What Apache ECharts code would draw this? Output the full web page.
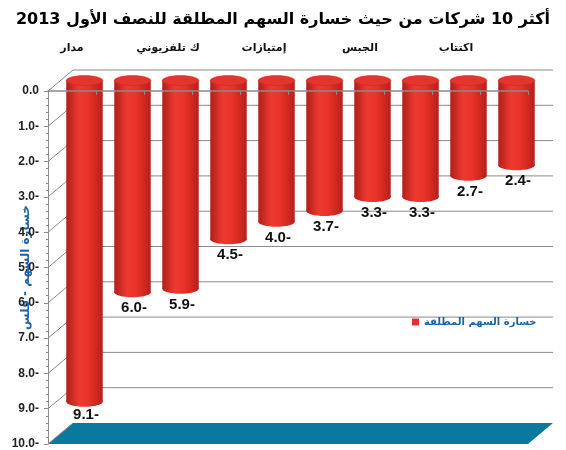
<!DOCTYPE html>
<html>
<head>
<meta charset="utf-8">
<script src="https://cdn.jsdelivr.net/npm/echarts@6/dist/echarts.min.js"></script>
<style>
  html, body { margin: 0; padding: 0; background: #fff; }
  #chart { width: 566px; height: 450px; }
</style>
</head>
<body>
<div id="chart"></div>
<script>
// companies (only every other name is printed in the source)
const categories = ['مدار', '', 'ك تلفزيوني', '', 'إمتيازات', '', 'الجبس', '', 'اكتتاب', '']
const lossValues = [-9.1, -6.0, -5.9, -4.5, -4.0, -3.7, -3.3, -3.3, -2.7, -2.4]
const yTicks = [0, -1, -2, -3, -4, -5, -6, -7, -8, -9, -10]

const titleText = 'أكثر 10 شركات من حيث خسارة السهم المطلقة للنصف الأول 2013'
const seriesName = 'خسارة السهم المطلقة'
const yAxisName = 'خسارة السهم - فلس'

// 3d depth offset of the back wall
const DX = 25
const DY = 21

const fmt = v => (v === 0 ? '0.0' : Math.abs(v).toFixed(1) + '-')

const chart = echarts.init(document.getElementById('chart'))

const renderFrame = (params, api) => {
  const cs = params.coordSys
  const v = api.value(1)
  const y = api.coord([0, v])[1]
  const x0 = cs.x
  const x1 = cs.x + cs.width
  const line = { stroke: '#8a8a8a', lineWidth: 1 }
  const children = []
  if (v === -10) {
    children.push({
      type: 'polygon',
      shape: { points: [[x0, y], [x0 + DX, y - DY], [x1 + DX, y - DY], [x1, y]] },
      style: { fill: '#0b78a0' }
    })
  } else {
    children.push({
      type: 'line',
      shape: { x1: x0 + DX, y1: y - DY, x2: x1 + DX, y2: y - DY },
      style: line
    })
  }
  children.push({
    type: 'line',
    shape: { x1: x0, y1: y, x2: x0 + DX, y2: y - DY },
    style: line
  })
  return { type: 'group', children }
}

const renderBar = (params, api) => {
  const idx = api.value(0)
  const v = api.value(1)
  const p0 = api.coord([idx, 0])
  const p1 = api.coord([idx, v])
  const floorBack = api.coord([idx, -10])[1] - DY
  const bw = api.size([1, 0])[0] * 0.76
  const cx = p0[0] + DX / 2
  const yTop = p0[1] - DY / 2
  const yBot = p1[1] - DY / 2
  const rx = bw / 2
  const ry = 5
  const body = new echarts.graphic.LinearGradient(0, 0, 1, 0, [
    { offset: 0, color: '#b51d18' },
    { offset: 0.35, color: '#ec3a2f' },
    { offset: 0.6, color: '#e83329' },
    { offset: 1, color: '#b81f1a' }
  ])
  // label sits under the bar but is kept above the floor
  const labelY = Math.min(yBot + 16, floorBack - 8)
  return {
    type: 'group',
    children: [
      {
        type: 'ellipse',
        shape: { cx, cy: yBot, rx, ry },
        style: { fill: body }
      },
      {
        type: 'rect',
        shape: { x: cx - rx, y: yTop, width: bw, height: yBot - yTop },
        style: { fill: body }
      },
      {
        type: 'ellipse',
        shape: { cx, cy: yTop, rx, ry },
        style: { fill: '#e4352c', stroke: '#c92620', lineWidth: 0.5 }
      },
      {
        type: 'text',
        x: p1[0] + 14,
        y: labelY,
        style: {
          text: fmt(v),
          fill: '#111',
          font: 'bold 15px "Liberation Sans", Arial, sans-serif',
          align: 'center',
          verticalAlign: 'middle'
        }
      }
    ]
  }
}

const option = {
  backgroundColor: '#fff',
  animation: false,
  title: {
    text: titleText,
    left: 'center',
    top: 7,
    textStyle: {
      fontFamily: '"DejaVu Sans", sans-serif',
      fontSize: 16,
      fontWeight: 'bold',
      color: '#000'
    }
  },
  legend: {
    data: [seriesName],
    left: 407,
    top: 312,
    icon: 'rect',
    itemWidth: 7,
    itemHeight: 7,
    itemGap: 4,
    textStyle: {
      color: '#1a62a4',
      fontWeight: 'bold',
      fontSize: 10,
      padding: [4, 0, 0, 0],
      fontFamily: '"DejaVu Sans", sans-serif'
    }
  },
  grid: {
    left: 48,
    right: 38,
    top: 91,
    bottom: 6,
    outerBoundsMode: 'none'
  },
  xAxis: {
    type: 'category',
    position: 'top',
    data: categories,
    z: 10,
    axisLine: { lineStyle: { color: '#8a8a8a', width: 1.5 } },
    axisTick: { show: true, length: -4, lineStyle: { color: '#8a8a8a' } },
    axisLabel: {
      interval: 0,
      margin: 37,
      color: '#111',
      fontWeight: 'bold',
      fontSize: 11,
      fontFamily: '"DejaVu Sans", sans-serif'
    }
  },
  yAxis: {
    type: 'value',
    min: -10,
    max: 0,
    interval: 1,
    name: yAxisName,
    nameLocation: 'middle',
    nameGap: 16,
    nameMoveOverlap: false,
    nameTextStyle: {
      color: '#1a62a4',
      fontWeight: 'bold',
      fontSize: 12,
      fontFamily: '"DejaVu Sans", sans-serif'
    },
    axisLine: { show: true, lineStyle: { color: '#8a8a8a' } },
    axisTick: { show: true, length: 4, lineStyle: { color: '#8a8a8a' } },
    minorTick: { show: true, splitNumber: 5, length: 2, lineStyle: { color: '#8a8a8a' } },
    splitLine: { show: false },
    axisLabel: {
      formatter: fmt,
      margin: 9,
      color: '#222',
      fontWeight: 'bold',
      fontSize: 12,
      fontFamily: '"Liberation Sans", Arial, sans-serif'
    }
  },
  series: [
    {
      type: 'custom',
      name: 'frame',
      silent: true,
      z: 1,
      renderItem: renderFrame,
      encode: { x: 0, y: 1 },
      data: yTicks.map(v => [0, v])
    },
    {
      type: 'custom',
      name: seriesName,
      z: 3,
      itemStyle: { color: '#e8302a' },
      renderItem: renderBar,
      encode: { x: 0, y: 1 },
      data: lossValues.map((v, i) => [i, v])
    }
  ]
}

chart.setOption(option)
</script>
</body>
</html>
